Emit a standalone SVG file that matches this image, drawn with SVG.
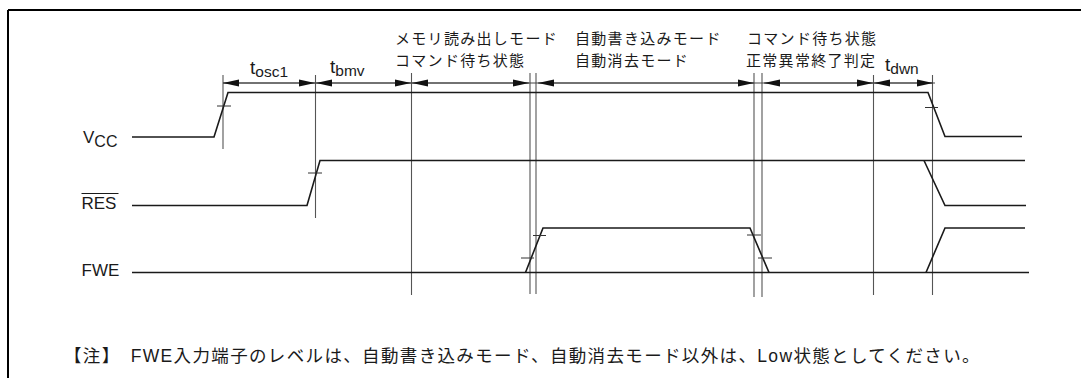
<svg xmlns="http://www.w3.org/2000/svg" width="1081" height="378" viewBox="0 0 1081 378">
<defs>
<marker id="ah" viewBox="0 0 16 8" refX="16" refY="4" markerWidth="16" markerHeight="8" markerUnits="userSpaceOnUse" orient="auto-start-reverse">
<path d="M0,0.5 L16,4 L0,7.5 Z" fill="#111"/>
</marker>
</defs>
<style>
.frame{stroke:#000;stroke-width:2;fill:none}
.sig{stroke:#1a1a1a;stroke-width:1.6;fill:none}
.ext{stroke:#555;stroke-width:1.1;fill:none}
.dim{stroke:#444;stroke-width:1.1;fill:none}
.tick{stroke:#333;stroke-width:1;fill:none}
.lbl{font-family:"Liberation Sans",sans-serif;font-size:17px;fill:#1a1a1a}
.jp{font-family:"Noto Sans CJK JP","Liberation Sans",sans-serif;font-size:15px;fill:#1a1a1a;letter-spacing:1.3px}
.t{font-family:"Liberation Sans",sans-serif;font-size:19px;fill:#1a1a1a}
.sub{font-size:15.5px}
.vsub{font-size:16px}
.note{font-family:"Liberation Sans","Noto Sans CJK JP",sans-serif;font-size:17.5px;fill:#1a1a1a;letter-spacing:1.35px}
</style>
<g id="frame">
<line class="frame" x1="8" y1="10" x2="1081" y2="10"/>
<line class="frame" x1="8" y1="10" x2="8" y2="378"/>
</g>
<g id="extension-lines">
<line class="ext" x1="223" y1="75" x2="223" y2="149"/>
<line class="ext" x1="315.5" y1="75" x2="315.5" y2="218"/>
<line class="ext" x1="411.5" y1="73" x2="411.5" y2="295"/>
<line class="ext" x1="530" y1="73" x2="530" y2="294"/>
<line class="ext" x1="536" y1="73" x2="536" y2="294"/>
<line class="ext" x1="754" y1="73" x2="754" y2="297"/>
<line class="ext" x1="762" y1="73" x2="762" y2="297"/>
<line class="ext" x1="873.5" y1="75" x2="873.5" y2="295"/>
<line class="ext" x1="932.5" y1="75" x2="932.5" y2="295"/>
</g>
<g id="connectors">
<line class="dim" x1="223" y1="83" x2="935" y2="83"/>
<line class="dim" x1="223" y1="83" x2="315" y2="83" marker-start="url(#ah)" marker-end="url(#ah)"/>
<line class="dim" x1="316" y1="83" x2="411" y2="83" marker-start="url(#ah)" marker-end="url(#ah)"/>
<line class="dim" x1="412" y1="83" x2="529" y2="83" marker-start="url(#ah)" marker-end="url(#ah)"/>
<line class="dim" x1="538" y1="83" x2="754" y2="83" marker-start="url(#ah)" marker-end="url(#ah)"/>
<line class="dim" x1="764" y1="83" x2="873" y2="83" marker-start="url(#ah)" marker-end="url(#ah)"/>
<line class="dim" x1="874" y1="83" x2="933" y2="83" marker-start="url(#ah)" marker-end="url(#ah)"/>
</g>
<g id="vcc">
<text class="lbl" x="83" y="143" font-size="18">V<tspan class="vsub" dy="4">CC</tspan></text>
<polyline class="sig" points="132,137 214,137 228,92.5 928,92.5 945,136.5 1022,136.5"/>
<line class="tick" x1="217" y1="106" x2="231" y2="106"/>
<line class="tick" x1="925" y1="107.5" x2="938" y2="107.5"/>
</g>
<g id="res">
<text class="lbl" x="81.5" y="209">RES</text>
<line x1="81.5" y1="193.5" x2="118.5" y2="193.5" stroke="#1a1a1a" stroke-width="1"/>
<polyline class="sig" points="132,205.5 307,205.5 320,160.5 1025,160.5"/>
<polyline class="sig" points="924,160.5 945,205.5 1026,205.5"/>
<line class="tick" x1="308" y1="173" x2="322" y2="173"/>
</g>
<g id="fwe">
<text class="lbl" x="81.5" y="276">FWE</text>
<line class="sig" x1="132" y1="272.5" x2="1029" y2="272.5"/>
<polyline class="sig" points="525.5,272.5 543,228 750,228 769,272.5"/>
<polyline class="sig" points="926,272.5 945,228 1025,228"/>
<line class="tick" x1="521" y1="258" x2="534" y2="258"/>
<line class="tick" x1="533" y1="235.5" x2="546" y2="235.5"/>
<line class="tick" x1="747" y1="235" x2="761" y2="235"/>
<line class="tick" x1="758" y1="258" x2="772" y2="258"/>
</g>
<g id="labels">
<text class="t" x="250" y="74">t<tspan class="sub" dy="3">osc1</tspan></text>
<text class="t" x="330" y="73">t<tspan class="sub" dy="3">bmv</tspan></text>
<text class="t" x="885" y="71">t<tspan class="sub" dy="3">dwn</tspan></text>
<text class="jp" x="395" y="44">メモリ読み出しモード</text>
<text class="jp" x="395" y="66">コマンド待ち状態</text>
<text class="jp" x="575" y="44">自動書き込みモード</text>
<text class="jp" x="575" y="66">自動消去モード</text>
<text class="jp" x="747" y="44">コマンド待ち状態</text>
<text class="jp" x="746" y="66">正常異常終了判定</text>
</g>
<g id="note">
<text class="note" x="64" y="362">【注】　FWE入力端子のレベルは、自動書き込みモード、自動消去モード以外は、Low状態としてください。</text>
</g>
</svg>
